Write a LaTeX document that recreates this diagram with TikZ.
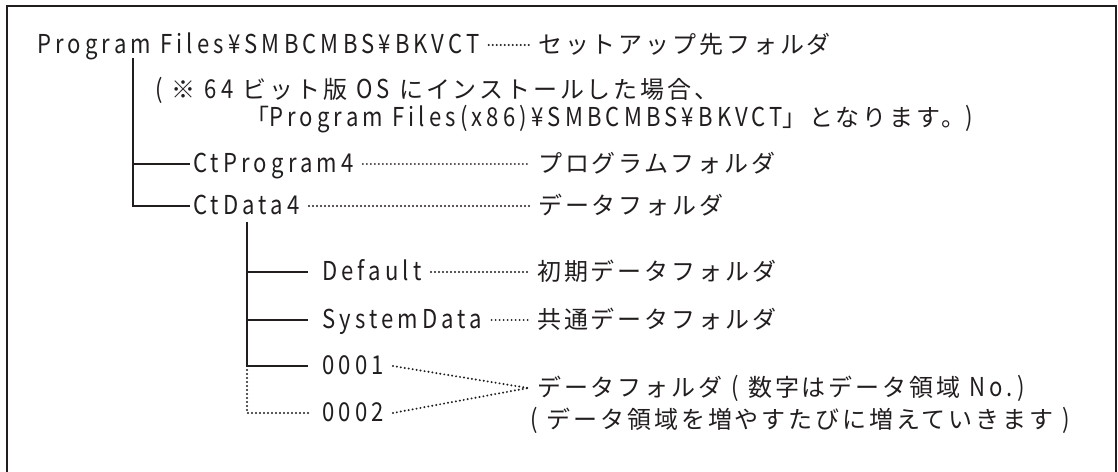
\documentclass[tikz,border=0pt]{standalone}
\usepackage{fontspec}
\setmainfont{Noto Sans CJK JP}[LetterSpace=12]
\newfontfamily\latfont{Noto Sans CJK JP}[Scale=1.083,FakeStretch=0.85,LetterSpace=16]
\newcommand\la[1]{{\latfont #1}}
\definecolor{ink}{RGB}{35,30,30}
\begin{document}
\begin{tikzpicture}[x=1pt,y=-1pt,
  txt/.style={anchor=west,inner sep=0pt,text height=17pt,text depth=0pt,text=ink,font=\fontsize{24}{28}\selectfont},
  tree/.style={draw=ink,line width=2.2pt},
  leader/.style={draw=ink,line width=2.2pt,line cap=round,dash pattern=on 0pt off 4pt},
  frame/.style={draw=ink,line width=2pt}]
\useasboundingbox (0,0) rectangle (1118,471);
\draw[frame] (7,475) -- (7,6) -- (1116,6) -- (1116,475);
% texts
\node[txt] (root) at (37,45) {\la{Program Files¥SMBCMBS¥BKVCT}};
\node[txt] (setup) at (538,45) {セットアップ先フォルダ};
\node[txt] (note1) at (155,90) {\la{( }※\la{ 64 }ビット版\la{ OS }にインストールした場合、};
\node[txt] (note2) at (245,118) {「\la{Program Files(x86)¥SMBCMBS¥BKVCT}」となります。\la{)}};
\node[txt] (ctprog) at (193,164) {\la{CtProgram4}};
\node[txt] (proglbl) at (538,164) {プログラムフォルダ};
\node[txt] (ctdata) at (193,206) {\la{CtData4}};
\node[txt] (datalbl) at (538,206) {データフォルダ};
\node[txt] (default) at (322,272) {\la{Default}};
\node[txt] (initlbl) at (537,272) {初期データフォルダ};
\node[txt] (sysdata) at (322,320) {\la{SystemData}};
\node[txt] (commlbl) at (537,320) {共通データフォルダ};
\node[txt] (n0001) at (322,366) {\la{0001}};
\node[txt] (n0002) at (322,413) {\la{0002}};
\node[txt] (numlbl) at (537,388) {データフォルダ\la{ ( }数字はデータ領域\la{ No.)}};
\node[txt] (incrlbl) at (530,420) {\la{( }データ領域を増やすたびに増えていきます\la{ )}};
% tree
\coordinate (t1top) at (133,58);
\coordinate (t2top) at (247,222);
\draw[tree] (t1top) |- ([xshift=-3pt]ctdata.west);
\draw[tree] (t1top |- ctprog.west) -- ([xshift=-3pt]ctprog.west);
\draw[tree] (t2top) |- ([xshift=-14pt]n0001.west);
\draw[tree] (t2top |- default.west) -- ([xshift=-14pt]default.west);
\draw[tree] (t2top |- sysdata.west) -- ([xshift=-14pt]sysdata.west);
\draw[leader] ([yshift=4pt]t2top |- n0001.west) |- ([xshift=-14pt]n0002.west);
% leaders
\draw[leader] ([xshift=9pt]root.east) -- ([xshift=-9pt]setup.west);
\draw[leader] ([xshift=9pt]ctprog.east) -- ([xshift=-9pt]proglbl.west);
\draw[leader] ([xshift=9pt]ctdata.east) -- ([xshift=-9pt]datalbl.west);
\draw[leader] ([xshift=9pt]default.east) -- ([xshift=-9pt]initlbl.west);
\draw[leader] ([xshift=9pt]sysdata.east) -- ([xshift=-9pt]commlbl.west);
\draw[leader] ([xshift=9pt]n0001.east) -- ([xshift=-9pt]numlbl.west);
\draw[leader] ([xshift=9pt]n0002.east) -- ([xshift=-9pt]numlbl.west);
\end{tikzpicture}
\end{document}
